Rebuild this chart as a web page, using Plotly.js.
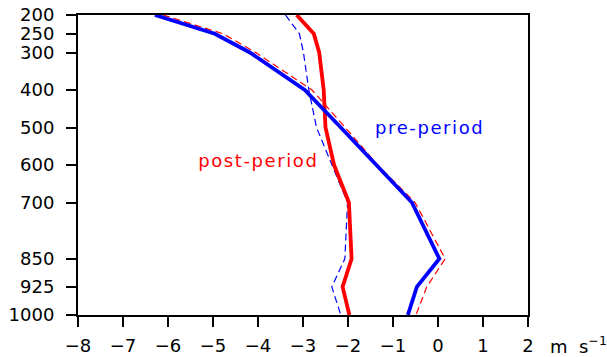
<!DOCTYPE html>
<html>
<head>
<meta charset="utf-8">
<script src="https://cdn.plot.ly/plotly-3.0.1.min.js"></script>
<style>
html,body{margin:0;padding:0;background:#fff;}
#chart{width:607px;height:357px;}
.annotation[data-index="0"] .annotation-text,
.annotation[data-index="1"] .annotation-text{letter-spacing:1.6px;}
</style>
</head>
<body>
<div id="chart"></div>
<script>
var levels = [200, 250, 300, 400, 500, 600, 700, 850, 925, 1000];
var preSolid   = [-6.29, -4.96, -4.18, -2.96, -2.16, -1.36, -0.58, 0.03, -0.47, -0.67];
var preDashed  = [-6.11, -4.78, -4.05, -2.80, -2.06, -1.34, -0.51, 0.16, -0.25, -0.49];
var postSolid  = [-3.14, -2.76, -2.64, -2.54, -2.50, -2.31, -1.98, -1.92, -2.12, -1.97];
var postDashed = [-3.39, -3.08, -2.99, -2.87, -2.70, -2.36, -2.01, -2.07, -2.36, -2.16];
var xTicks = [-8, -7, -6, -5, -4, -3, -2, -1, 0, 1, 2];

var FONT = 'DejaVu Sans, sans-serif';
var traces = [
  {x: preDashed, y: levels, mode: 'lines', line: {color: '#ff0000', width: 1.2, dash: '7px,4px'}},
  {x: postDashed, y: levels, mode: 'lines', line: {color: '#0000ff', width: 1.2, dash: '7px,4px'}},
  {x: postSolid, y: levels, mode: 'lines', line: {color: '#ff0000', width: 3.8}},
  {x: preSolid, y: levels, mode: 'lines', line: {color: '#0000ff', width: 3.8}}
];
var layout = {
  width: 607, height: 357,
  margin: {l: 78, r: 79, t: 15, b: 41.5, pad: 0},
  showlegend: false,
  paper_bgcolor: '#fff', plot_bgcolor: '#fff',
  font: {family: FONT, size: 18, color: '#000'},
  xaxis: {
    range: [-8, 2], tickvals: xTicks, ticktext: xTicks.map(function(v){return v < 0 ? '\u2212' + (-v) : String(v);}),
    ticks: 'outside', ticklen: 10, tickwidth: 2, tickcolor: '#000',
    showline: true, linewidth: 2, linecolor: '#000', mirror: true,
    showgrid: false, zeroline: false, ticklabelstandoff: 3,
    tickfont: {family: FONT, size: 18, color: '#000'}
  },
  yaxis: {
    range: [1000, 200], tickvals: levels, ticktext: levels.map(String),
    ticks: 'outside', ticklen: 10, tickwidth: 2, tickcolor: '#000',
    showline: true, linewidth: 2, linecolor: '#000', mirror: true,
    showgrid: false, zeroline: false, ticklabelstandoff: 8,
    tickfont: {family: FONT, size: 18, color: '#000'}
  },
  annotations: [
    {text: 'pre-period', x: -0.19, y: 500, xref: 'x', yref: 'y', showarrow: false,
     font: {family: FONT, size: 18, color: '#0000ff'}},
    {text: 'post-period', x: -3.99, y: 589, xref: 'x', yref: 'y', showarrow: false,
     font: {family: FONT, size: 18, color: '#ff0000'}},
    {text: 'm\u00a0\u00a0s<sup>\u22121</sup>', x: 1.044, y: -0.1, xref: 'paper', yref: 'paper',
     xanchor: 'left', yanchor: 'middle', showarrow: false,
     font: {family: FONT, size: 18, color: '#000'}}
  ]
};
Plotly.newPlot('chart', traces, layout, {displayModeBar: false, staticPlot: true});
</script>
</body>
</html>
